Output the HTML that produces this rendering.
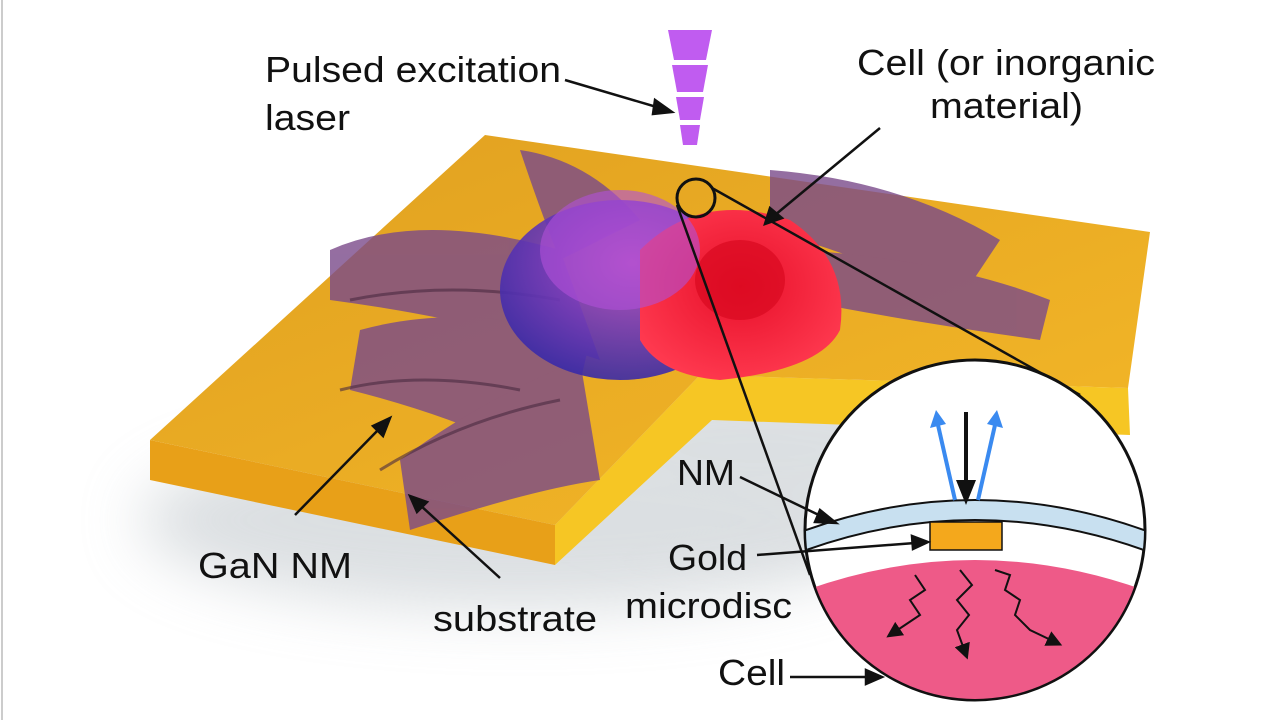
<!DOCTYPE html>
<html><head><style>
body{margin:0;background:#fff;}
svg{display:block}
text{font-family:"Liberation Sans",sans-serif;font-size:36px;fill:#111}
</style></head><body>
<svg width="1280" height="720" viewBox="0 0 1280 720">
<defs>
<radialGradient id="dome" cx="0.55" cy="0.35" r="0.65"><stop offset="0" stop-color="#b04ad0"/><stop offset="1" stop-color="#3a2aa8"/></radialGradient>
<radialGradient id="red" cx="0.5" cy="0.45" r="0.6"><stop offset="0" stop-color="#e8102a"/><stop offset="1" stop-color="#ff3a50"/></radialGradient>
<linearGradient id="top" x1="0" y1="0" x2="1" y2="1"><stop offset="0" stop-color="#e0a020"/><stop offset="1" stop-color="#f4b828"/></linearGradient>
<marker id="ah" markerWidth="8" markerHeight="8" refX="4" refY="4" orient="auto"><path d="M0,0 L8,4 L0,8Z" fill="#111"/></marker>
<filter id="bl" x="-50%" y="-50%" width="200%" height="200%"><feGaussianBlur stdDeviation="30"/></filter>
</defs>
<line x1="2" y1="0" x2="2" y2="720" stroke="#ccc" stroke-width="2"/>
<g opacity="0.6">
<ellipse cx="520" cy="520" rx="380" ry="90" fill="#c4cacf" filter="url(#bl)"/>
<ellipse cx="760" cy="450" rx="200" ry="80" fill="#c4cacf" filter="url(#bl)"/>
</g>
<polygon points="150,440 555,525 555,565 150,480" fill="#e8a018"/>
<polygon points="555,525 700,375 1128,388 1130,435 712,420 555,565" fill="#f6c624"/>
<polygon points="150,440 485,135 1150,232 1128,388 700,375 555,525" fill="url(#top)"/>
<g fill="#7a4a8a" opacity="0.8">
<path d="M330,250 Q420,210 560,250 L600,360 Q480,320 330,300Z"/>
<path d="M360,330 Q470,300 590,340 L560,470 Q470,420 350,390Z"/>
<path d="M400,460 Q480,400 580,360 L600,480 Q530,490 410,530Z"/>
<path d="M520,150 Q590,160 640,220 L560,260 Q540,210 520,150Z"/>
<path d="M770,170 Q900,180 1000,240 L960,300 Q870,260 770,230Z"/>
<path d="M800,250 Q950,260 1050,300 L1040,340 Q900,320 800,300Z"/>
</g>
<g stroke="#4a2a40" stroke-width="3" fill="none" opacity="0.6">
<path d="M340,390 Q420,370 520,390"/><path d="M380,470 Q460,420 560,400"/><path d="M350,300 Q450,280 560,300"/>
</g>
<ellipse cx="620" cy="290" rx="120" ry="90" fill="url(#dome)" opacity="0.9"/>
<path d="M640,250 Q700,190 790,220 Q850,260 840,330 Q820,370 720,380 Q660,375 640,340Z" fill="url(#red)"/>
<ellipse cx="740" cy="280" rx="45" ry="40" fill="#d80820" opacity="0.7"/>
<ellipse cx="620" cy="250" rx="80" ry="60" fill="#b050d8" opacity="0.6"/>
<g fill="#c05cf0">
<path d="M668,30 L712,30 L706,60 L674,60Z"/>
<path d="M672,65 L708,65 L703,92 L677,92Z"/>
<path d="M676,97 L704,97 L700,120 L680,120Z"/>
<path d="M680,125 L700,125 L697,145 L683,145Z"/>
</g>
<circle cx="696" cy="198" r="19" fill="none" stroke="#111" stroke-width="3"/>
<line x1="677" y1="205" x2="810" y2="575" stroke="#111" stroke-width="2.5"/>
<line x1="712" y1="188" x2="1080" y2="395" stroke="#111" stroke-width="2.5"/>
<circle cx="975" cy="530" r="170" fill="#fff" stroke="#111" stroke-width="3"/>
<clipPath id="c"><circle cx="975" cy="530" r="169"/></clipPath>
<g clip-path="url(#c)">
<path d="M780,600 Q975,520 1170,600 L1170,720 L780,720Z" fill="#ee5a88"/>
<path d="M780,540 Q975,460 1170,540 L1170,560 Q975,480 780,560Z" fill="#c8e0f0" stroke="#111" stroke-width="2"/>
</g>
<rect x="930" y="522" width="72" height="28" fill="#f4a81c" stroke="#111" stroke-width="1.5"/>
<line x1="966" y1="412" x2="966" y2="490" stroke="#111" stroke-width="4"/>
<polygon points="956,480 976,480 966,505" fill="#111"/>
<path d="M955,500 L938,425" stroke="#3a8af0" stroke-width="4" fill="none"/>
<polygon points="930,428 946,424 936,410" fill="#3a8af0"/>
<path d="M978,500 L995,425" stroke="#3a8af0" stroke-width="4" fill="none"/>
<polygon points="987,424 1003,428 997,410" fill="#3a8af0"/>
<g stroke="#111" stroke-width="2" fill="none" marker-end="url(#ah)">
<path d="M915,575 l10,15 -15,10 10,15 -15,10 -12,8"/>
<path d="M960,570 l12,15 -15,15 12,15 -12,15 8,22"/>
<path d="M995,570 l15,5 -5,15 15,10 -5,15 15,15 25,12"/>
</g>
<text x="265" y="82" textLength="296" lengthAdjust="spacingAndGlyphs">Pulsed excitation</text>
<text x="265" y="130" textLength="85" lengthAdjust="spacingAndGlyphs">laser</text>
<text x="857" y="75" textLength="298" lengthAdjust="spacingAndGlyphs">Cell (or inorganic</text>
<text x="930" y="118" textLength="153" lengthAdjust="spacingAndGlyphs">material)</text>
<text x="198" y="578" textLength="154" lengthAdjust="spacingAndGlyphs">GaN NM</text>
<text x="433" y="631" textLength="164" lengthAdjust="spacingAndGlyphs">substrate</text>
<text x="677" y="485" textLength="58" lengthAdjust="spacingAndGlyphs">NM</text>
<text x="668" y="570" textLength="79" lengthAdjust="spacingAndGlyphs">Gold</text>
<text x="625" y="618" textLength="167" lengthAdjust="spacingAndGlyphs">microdisc</text>
<text x="718" y="685" textLength="67" lengthAdjust="spacingAndGlyphs">Cell</text>
<g stroke="#111" stroke-width="2.5" fill="#111">
<line x1="565" y1="80" x2="660" y2="108"/><polygon points="672,112 655,100 653,114"/>
<line x1="880" y1="128" x2="775" y2="215"/><polygon points="765,224 770,208 782,218"/>
<line x1="295" y1="515" x2="380" y2="428"/><polygon points="390,418 373,426 383,436"/>
<line x1="500" y1="578" x2="420" y2="505"/><polygon points="410,496 417,512 427,502"/>
<line x1="740" y1="477" x2="825" y2="518"/><polygon points="836,523 820,510 815,522"/>
<line x1="757" y1="555" x2="915" y2="543"/><polygon points="928,542 912,536 913,549"/>
<line x1="790" y1="677" x2="868" y2="677"/><polygon points="882,677 866,670 866,684"/>
</g>
</svg>
</body></html>
